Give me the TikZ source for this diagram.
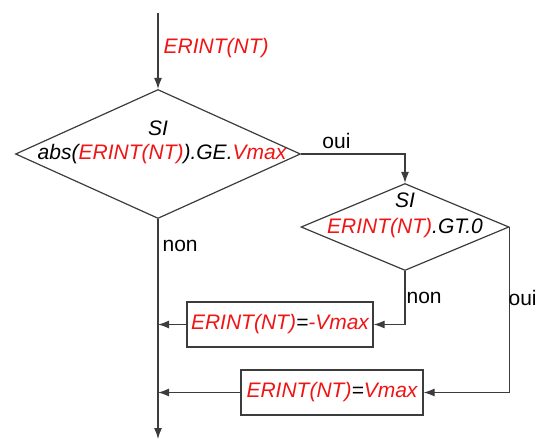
\documentclass[tikz,border=0pt]{standalone}
\usepackage{fontspec}
\setmainfont{Liberation Sans}
\usetikzlibrary{arrows.meta, positioning, shapes.geometric}
\definecolor{flowred}{RGB}{240,20,20}
\definecolor{flowline}{RGB}{60,60,60}
\tikzset{
  >={Latex[length=11pt,width=8pt]},
  every node/.style={font=\fontsize{21}{25}\selectfont},
}
\newcommand{\rv}[1]{\textcolor{flowred}{#1}}

\begin{document}
\begin{tikzpicture}[x=1pt, y=-1pt, line width=1.2pt, draw=flowline,
      test/.style = {draw=flowline, diamond, inner sep=0pt},
      affect/.style = {draw=flowline, rectangle, inner sep=0pt},
      lab/.style = {inner sep=0pt, anchor=west}]

      \useasboundingbox (0,0) rectangle (537,439);

      % --- Nodes ---
      \coordinate (top) at (158,13);
      \coordinate (bot) at (158,439);
      \node[test, minimum width=285pt, minimum height=129pt] (si1) at (158,154) {};
      \node[test, minimum width=208pt, minimum height=87pt] (si2) at (405,227) {};
      \node[affect, minimum width=186pt, minimum height=45pt] (neg) at (280,324.5) {};
      \node[affect, minimum width=182pt, minimum height=45pt] (pos) at (332,392.5) {};

      % --- Texts ---
      \node[lab] (entree) at (163,48) {\itshape\rv{ERINT(NT)}};
      \node[inner sep=0pt] (si1a) at (158,128) {\itshape SI};
      \node[inner sep=0pt] (si1b) at (162,154) {\itshape abs(\rv{ERINT(NT)}).GE.\rv{Vmax}};
      \node[inner sep=0pt] (si2a) at (405,200) {\itshape SI};
      \node[inner sep=0pt] (si2b) at (405,228) {\itshape \rv{ERINT(NT)}.GT.0};
      \node[inner sep=0pt] (negt) at (neg) {\itshape \rv{ERINT(NT)}=\rv{-Vmax}};
      \node[inner sep=0pt] (post) at (pos) {\itshape \rv{ERINT(NT)}=\rv{Vmax}};

      % --- Connectors ---
      \draw[->] (top) -- (si1.north);
      \draw[->] (si1.east) -| node[pos=0.17, above=1pt] {oui} (si2.north);
      \draw[->] (si1.south) -- node[lab, pos=0.12, right=4pt] {non} (bot);
      \draw[->] (si2.south) |- (neg.east);
      \draw[->] (si2.east) |- (pos.east);
      \draw[->] (neg.west) -- (neg.west -| si1.south);
      \draw[->] (pos.west) -- (pos.west -| si1.south);

      \node[lab] (nonb) at (406,298) {non};
      \node[lab] (ouib) at (508,298) {oui};

    \end{tikzpicture}
\end{document}
